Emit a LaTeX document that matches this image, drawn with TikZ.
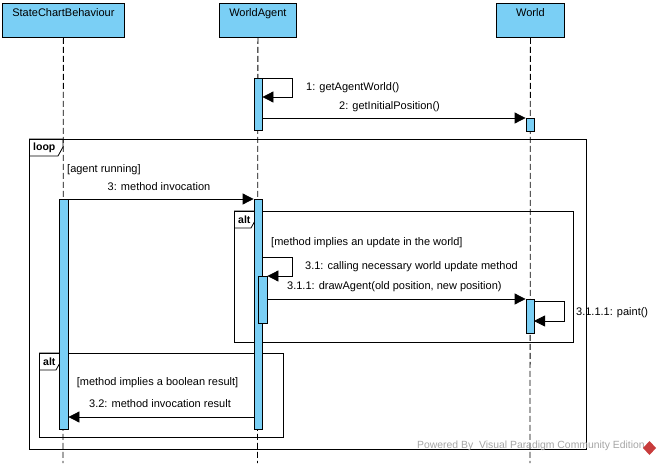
\documentclass[tikz,border=0pt]{standalone}
\usepackage{fontspec}
\setmainfont{Liberation Sans}
\usetikzlibrary{arrows.meta}
\definecolor{vpblue}{RGB}{122,207,245}
\definecolor{footgray}{RGB}{165,165,165}
\definecolor{logored}{RGB}{200,60,60}
\tikzset{
  lbl/.style={inner sep=0pt, font=\fontsize{11}{13}\selectfont},
  foottxt/.style={inner sep=0pt, font=\fontsize{10.4}{12}\selectfont, text=footgray},
  tabtxt/.style={inner sep=0pt, font=\fontsize{10.5}{12}\selectfont\bfseries},
  head/.style={draw=black, fill=vpblue, line width=0.8pt, inner sep=0pt, anchor=north west},
  lifeline/.style={line width=0.8pt, dash pattern=on 6pt off 3pt},
  bar/.style={draw=black, fill=vpblue, line width=0.8pt, inner sep=0pt, minimum width=8pt, anchor=north},
  msg/.style={line width=0.8pt, -{Triangle[length=11pt,width=11pt]}},
  frame/.style={draw=black, line width=0.8pt, inner sep=0pt, anchor=north west},
}
\begin{document}
\begin{tikzpicture}[x=1pt,y=-1pt]
\useasboundingbox (0,0) rectangle (661,463);
% frames
\node[frame, minimum width=557pt, minimum height=310pt] (loop) at (29,139) {};
\draw[line width=0.8pt] (loop.north west) -- ++(34,0) -- ++(0,8) -- ++(-5,9) -- ++(-29,0);
\node[tabtxt, anchor=west] (looplbl) at (33,147.5) {loop};
\node[frame, minimum width=339pt, minimum height=131pt] (alt1) at (234,211) {};
\draw[line width=0.8pt] (alt1.north west) -- ++(22,0) -- ++(0,8) -- ++(-5,9) -- ++(-17,0);
\node[tabtxt, anchor=west] (alt1lbl) at (238,219.5) {alt};
\node[frame, minimum width=244pt, minimum height=84pt] (alt2) at (39,353) {};
\draw[line width=0.8pt] (alt2.north west) -- ++(22,0) -- ++(0,8) -- ++(-5,9) -- ++(-17,0);
\node[tabtxt, anchor=west] (alt2lbl) at (43,361.5) {alt};
% heads
\node[head, minimum width=122pt, minimum height=34pt,
  label={[lbl, anchor=north, yshift=-5pt]north:StateChartBehaviour}] (scb) at (2,3) {};
\node[head, minimum width=77pt, minimum height=34pt,
  label={[lbl, anchor=north, yshift=-5pt]north:WorldAgent}] (wa) at (219,3) {};
\node[head, minimum width=68pt, minimum height=34pt,
  label={[lbl, anchor=north, yshift=-5pt]north:World}] (w) at (496,3) {};
\coordinate (scbend) at (63,463);
\coordinate (waend) at (257.5,463);
\coordinate (wend) at (530,463);
\draw[lifeline] (scb.south) -- (scbend);
\draw[lifeline] (wa.south) -- (waend);
\draw[lifeline] (w.south) -- (wend);
% activation bars
\node[bar, minimum height=52pt] (a1) at (258,78) {};
\node[bar, minimum height=13pt] (w1) at (530,118) {};
\node[bar, minimum width=9pt, minimum height=230pt] (s1) at (63.5,199) {};
\node[bar, minimum height=230pt] (a2) at (258,199) {};
\node[bar, minimum width=9pt, minimum height=47pt] (a3) at (262.5,276) {};
\node[bar, minimum height=34pt] (w2) at (530,299) {};
% messages
\draw[msg] (a1.north east) -- ++(30,0) -- ++(0,19) -- ++(-30,0);
\node[lbl, anchor=west] (m1) at (306,88) {1: getAgentWorld()};
\draw[msg] (a1.east |- w1.north west) -- (w1.north west);
\node[lbl, anchor=west] (m2) at (339,107) {2: getInitialPosition()};
\node[lbl, anchor=west] (g1) at (67,170) {[agent running]};
\draw[msg] (s1.north east) -- (a2.north west);
\node[lbl] (m3) at (159,187) {3: method invocation};
\node[lbl, anchor=west] (g2) at (271,243) {[method implies an update in the world]};
\coordinate (c31) at (262,257);
\draw[msg] (c31) -- ++(30,0) |- (a3.north east);
\node[lbl, anchor=west] (m31) at (305,267) {3.1: calling necessary world update method};
\draw[msg] (a3.east |- w2.north west) -- (w2.north west);
\node[lbl, anchor=west] (m311) at (287,287) {3.1.1: drawAgent(old position, new position)};
\coordinate (c3111) at (534,301);
\draw[msg] (c3111) -- ++(30,0) -- ++(0,20) -- ++(-30,0);
\node[lbl, anchor=west] (m3111) at (576,313) {3.1.1.1: paint()};
\node[lbl] (g3) at (157.5,383) {[method implies a boolean result]};
\node[lbl] (m32) at (160,404) {3.2: method invocation result};
\coordinate (c32) at (254,417);
\draw[msg] (c32) -- (s1.east |- c32);
% footer
\node[foottxt, anchor=west] (foot) at (417,446) {Powered By \ Visual Paradigm Community Edition};
\fill[logored] (649.5,441) -- (656,448) -- (649.5,455) -- (643,448) -- cycle;
\end{tikzpicture}
\end{document}
